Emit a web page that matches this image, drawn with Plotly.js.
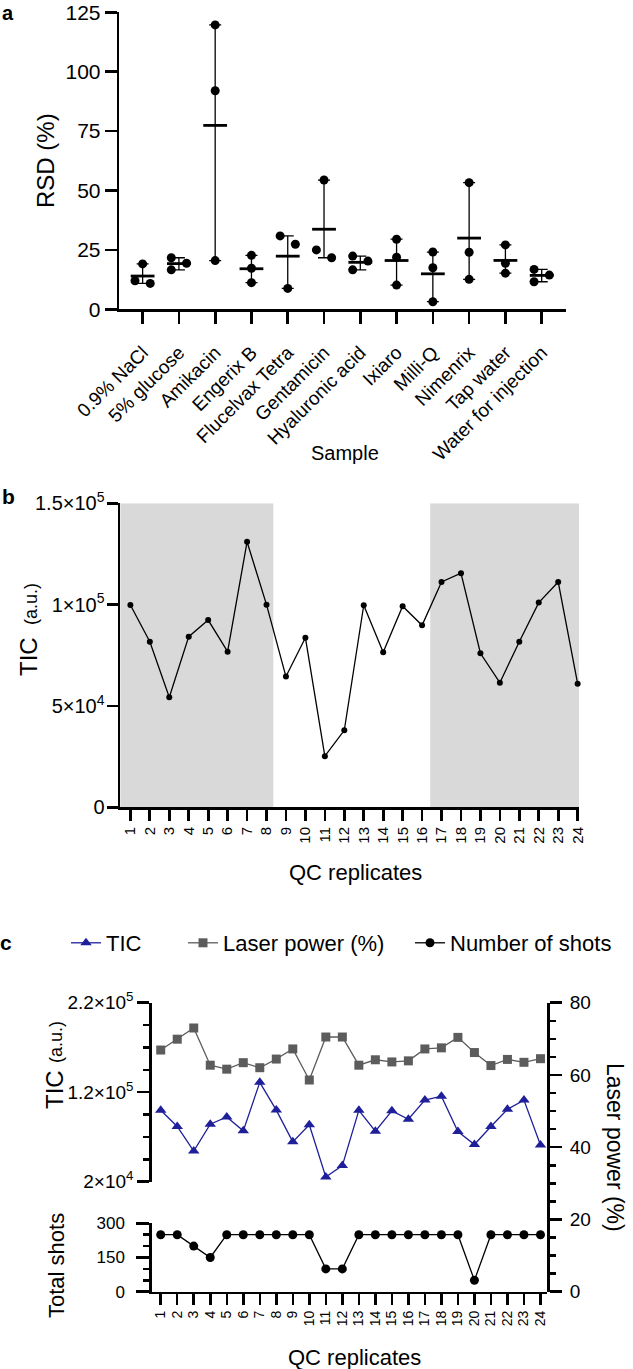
<!DOCTYPE html>
<html><head><meta charset="utf-8">
<script src="https://cdn.plot.ly/plotly-3.0.1.min.js"></script>
<style>html,body{margin:0;padding:0;background:#fff}</style>
</head><body><div id="chart" style="width:633px;height:1369px"></div>
<script>
// ---------- Panel a data ----------
const samples = ['0.9% NaCl','5% glucose','Amikacin','Engerix B','Flucelvax Tetra','Gentamicin','Hyaluronic acid','Ixiaro','Milli-Q','Nimenrix','Tap water','Water for injection'];
const rsdRep1 = [19.1, 21.7, 119.7, 22.7, 30.9, 54.4, 22.4, 29.5, 24.1, 53.3, 27.1, 16.8];
const rsdRep2 = [12.0, 19.4, 92.0, 17.3, 27.4, 25.0, 20.3, 21.9, 17.5, 24.0, 19.4, 14.4];
const rsdRep3 = [10.9, 16.6, 20.5, 11.2, 8.8, 21.7, 16.6, 10.2, 3.2, 12.6, 15.2, 11.6];
const rsdTicks = [0, 25, 50, 75, 100, 125];

// ---------- Panel b / c data ----------
const qcReplicates = [1,2,3,4,5,6,7,8,9,10,11,12,13,14,15,16,17,18,19,20,21,22,23,24];
const ticValues = [99800, 81700, 54300, 84200, 92400, 76800, 131000, 100000, 64500, 83700, 25200, 38000,
                   99700, 76500, 99200, 89800, 111200, 115500, 76000, 61500, 81700, 101000, 111200, 61000];
const laserPower = [66.9, 69.9, 73.0, 62.7, 61.6, 63.4, 62.0, 64.4, 67.2, 58.6, 70.5, 70.5,
                    62.7, 64.2, 63.6, 63.9, 67.2, 67.5, 70.4, 66.2, 62.6, 64.3, 63.5, 64.5];
const totalShots = [250, 250, 200, 150, 250, 250, 250, 250, 250, 250, 100, 100,
                    250, 250, 250, 250, 250, 250, 250, 50, 250, 250, 250, 250];
const ticTickValsB = [0, 50000, 100000, 150000];
const ticTickTextB = ['0', '5×10<sup>4</sup>', '1×10<sup>5</sup>', '1.5×10<sup>5</sup>'];
const ticTickValsC = [20000, 120000, 220000];
const ticTickTextC = ['2×10<sup>4</sup>', '1.2×10<sup>5</sup>', '2.2×10<sup>5</sup>'];
const shotTicks = [0, 150, 300];
const laserTicks = [0, 20, 40, 60, 80];
const seriesNames = ['TIC', 'Laser power (%)', 'Number of shots'];

// ---------- helpers ----------
const FONT = 'Liberation Sans, Arial, Helvetica, sans-serif';
const W = 633, H = 1369;
const px = x => x / W;
const py = y => 1 - y / H;

// spread overlapping points of a column sideways (display only)
function spread(vals) {
  const order = vals.map((v, i) => [v, i]).sort((a, b) => b[0] - a[0]);
  const off = vals.map(() => 0);
  const clusters = [];
  let cur = [order[0]];
  for (let k = 1; k < order.length; k++) {
    if (cur[cur.length - 1][0] - order[k][0] < 4) cur.push(order[k]);
    else { clusters.push(cur); cur = [order[k]]; }
  }
  clusters.push(cur);
  clusters.forEach(c => { if (c.length > 1) c.forEach((p, j) => { off[p[1]] = (j % 2 === 0 ? -1 : 1); }); });
  return off;
}

const idx = samples.map((_, i) => i);
const groups = samples.map((_, i) => [rsdRep1[i], rsdRep2[i], rsdRep3[i]]);
const means = groups.map(g => g.reduce((a, b) => a + b, 0) / g.length);
const maxs = groups.map(g => Math.max(...g));
const mins = groups.map(g => Math.min(...g));
const ptX = [], ptY = [];
groups.forEach((g, i) => {
  const off = spread(g);
  g.forEach((v, j) => { ptX.push(i + off[j] * 0.21); ptY.push(v); });
});

const traces = [
  { type: 'scatter', mode: 'markers', x: idx, y: means, xaxis: 'x', yaxis: 'y', showlegend: false,
    cliponaxis: false,
    marker: { symbol: 'line-ew', size: 17, color: '#000', line: { width: 2.8, color: '#000' } },
    error_y: { type: 'data', symmetric: false,
      array: maxs.map((m, i) => m - means[i]), arrayminus: mins.map((m, i) => means[i] - m),
      color: '#000', thickness: 1.3, width: 6 } },
  { type: 'scatter', mode: 'markers', x: ptX, y: ptY, xaxis: 'x', yaxis: 'y', showlegend: false,
    cliponaxis: false, marker: { symbol: 'circle', size: 9, color: '#000' } },
  { type: 'scatter', mode: 'lines+markers', x: qcReplicates, y: ticValues, xaxis: 'x2', yaxis: 'y2',
    showlegend: false, cliponaxis: false,
    line: { color: '#000', width: 1.3 }, marker: { symbol: 'circle', size: 6, color: '#000' } },
  { type: 'scatter', mode: 'lines+markers', name: seriesNames[0], x: qcReplicates, y: ticValues,
    xaxis: 'x3', yaxis: 'y3', cliponaxis: false, legendwidth: 72,
    line: { color: '#1f1f9a', width: 1.3 }, marker: { symbol: 'triangle-up', size: 10, color: '#1f1f9a' } },
  { type: 'scatter', mode: 'lines+markers', name: seriesNames[1], x: qcReplicates, y: laserPower,
    xaxis: 'x3', yaxis: 'y5', cliponaxis: false, legendwidth: 182,
    line: { color: '#5c5c5c', width: 1.3 }, marker: { symbol: 'square', size: 9, color: '#5c5c5c' } },
  { type: 'scatter', mode: 'lines+markers', name: seriesNames[2], x: qcReplicates, y: totalShots,
    xaxis: 'x3', yaxis: 'y4', cliponaxis: false,
    line: { color: '#000', width: 1.3 }, marker: { symbol: 'circle', size: 9, color: '#000' } }
];

const axBase = { showline: true, linecolor: '#000', linewidth: 2.7, ticks: 'outside', tickcolor: '#000',
  tickwidth: 2.7, showgrid: false, zeroline: false, fixedrange: true };

function label(text, x, y, size, angle, bold, yanchor) {
  return { text: bold ? '<b>' + text + '</b>' : text, x: px(x), y: py(y), xref: 'paper', yref: 'paper',
    xanchor: 'center', yanchor: yanchor || 'middle', showarrow: false, textangle: angle || 0,
    font: { size: size, family: FONT, color: '#000' } };
}

const layout = {
  width: W, height: H, margin: { l: 0, r: 0, t: 0, b: 0 },
  paper_bgcolor: '#fff', plot_bgcolor: 'rgba(0,0,0,0)',
  font: { family: FONT, color: '#000' },
  showlegend: true,
  legend: { orientation: 'h', x: px(66), xanchor: 'left', y: py(943), yanchor: 'middle',
    font: { size: 22, family: FONT }, bgcolor: 'rgba(0,0,0,0)', itemclick: false },
  xaxis: Object.assign({}, axBase, { domain: [px(119.4), px(566)], range: [-0.64, 11.67], anchor: 'y',
    tickmode: 'array', tickvals: idx, ticktext: samples, tickangle: -45, ticklen: 12,
    ticklabelstandoff: 10, tickfont: { size: 19 } }),
  yaxis: Object.assign({}, axBase, { domain: [py(309.3), py(12.3)], range: [0, 125], anchor: 'x',
    tickmode: 'array', tickvals: rsdTicks, ticklen: 12, tickfont: { size: 21 } }),
  xaxis2: Object.assign({}, axBase, { domain: [px(120.2), px(579)], range: [0.476, 24.07], anchor: 'y2',
    tickmode: 'array', tickvals: qcReplicates, tickangle: -90, ticklen: 11, tickfont: { size: 15 } }),
  yaxis2: Object.assign({}, axBase, { domain: [py(807.3), py(503.3)], range: [0, 150000], anchor: 'x2',
    tickmode: 'array', tickvals: ticTickValsB, ticktext: ticTickTextB, ticklen: 11, ticklabelstandoff: -2,
    tickfont: { size: 20 } }),
  xaxis3: Object.assign({}, axBase, { domain: [px(151.8), px(547.4)], range: [0.46, 24.42], anchor: 'y4',
    linewidth: 2.5, tickwidth: 2.5,
    tickmode: 'array', tickvals: qcReplicates, tickangle: -90, ticklen: 11, tickfont: { size: 14 } }),
  yaxis3: Object.assign({}, axBase, { domain: [py(1181.7), py(1002.7)], range: [20000, 220000], anchor: 'x3',
    linewidth: 2.5, tickwidth: 2.5,
    tickmode: 'array', tickvals: ticTickValsC, ticktext: ticTickTextC, ticklen: 12, tickfont: { size: 19 },
    minor: { tick0: 20000, dtick: 25000, ticks: 'outside', ticklen: 6, tickwidth: 2.5, tickcolor: '#000' } }),
  yaxis4: Object.assign({}, axBase, { domain: [py(1291.7), py(1223.3)], range: [0, 300], anchor: 'x3',
    linewidth: 2.5, tickwidth: 2.5,
    tickmode: 'array', tickvals: shotTicks, ticklen: 13, ticklabelstandoff: 8, tickfont: { size: 17 },
    minor: { tick0: 0, dtick: 50, ticks: 'outside', ticklen: 6, tickwidth: 2.5, tickcolor: '#000' } }),
  yaxis5: Object.assign({}, axBase, { domain: [py(1291.7), py(1002.7)], range: [0, 80], anchor: 'x3', side: 'right',
    linewidth: 2.5, tickwidth: 2.5,
    tickmode: 'array', tickvals: laserTicks, ticklen: 12, ticklabelstandoff: 4, tickfont: { size: 19 },
    minor: { tick0: 0, dtick: 5, ticks: 'outside', ticklen: 6, tickwidth: 2.5, tickcolor: '#000' } }),
  shapes: [
    { type: 'rect', xref: 'x2', yref: 'y2', x0: 0.476, x1: 8.35, y0: 0, y1: 150000,
      fillcolor: '#d9d9d9', line: { width: 0 }, layer: 'below' },
    { type: 'rect', xref: 'x2', yref: 'y2', x0: 16.42, x1: 24.07, y0: 0, y1: 150000,
      fillcolor: '#d9d9d9', line: { width: 0 }, layer: 'below' }
  ],
  annotations: [
    label('a', 8, 0, 20, 0, true, 'top'),
    label('b', 8, 496, 21, 0, true),
    label('c', 6, 942, 21, 0, true),
    label('RSD (%)', 45, 161, 24, -90),
    label('Sample', 345, 453, 20, 0),
    label('TIC', 29, 657, 24, -90),
    label('(a.u.)', 31, 604, 18, -90),
    label('QC replicates', 355, 872, 22, 0),
    label('TIC', 54, 1090, 24, -90),
    label('(a.u.)', 56, 1042, 18, -90),
    label('Total shots', 56, 1266, 22, -90),
    label('Laser power (%)', 615, 1147, 23, 90),
    label('QC replicates', 354, 1357, 22, 0)
  ],
  hovermode: false
};

Plotly.newPlot('chart', traces, layout, { staticPlot: true, displayModeBar: false });
</script>
</body></html>
